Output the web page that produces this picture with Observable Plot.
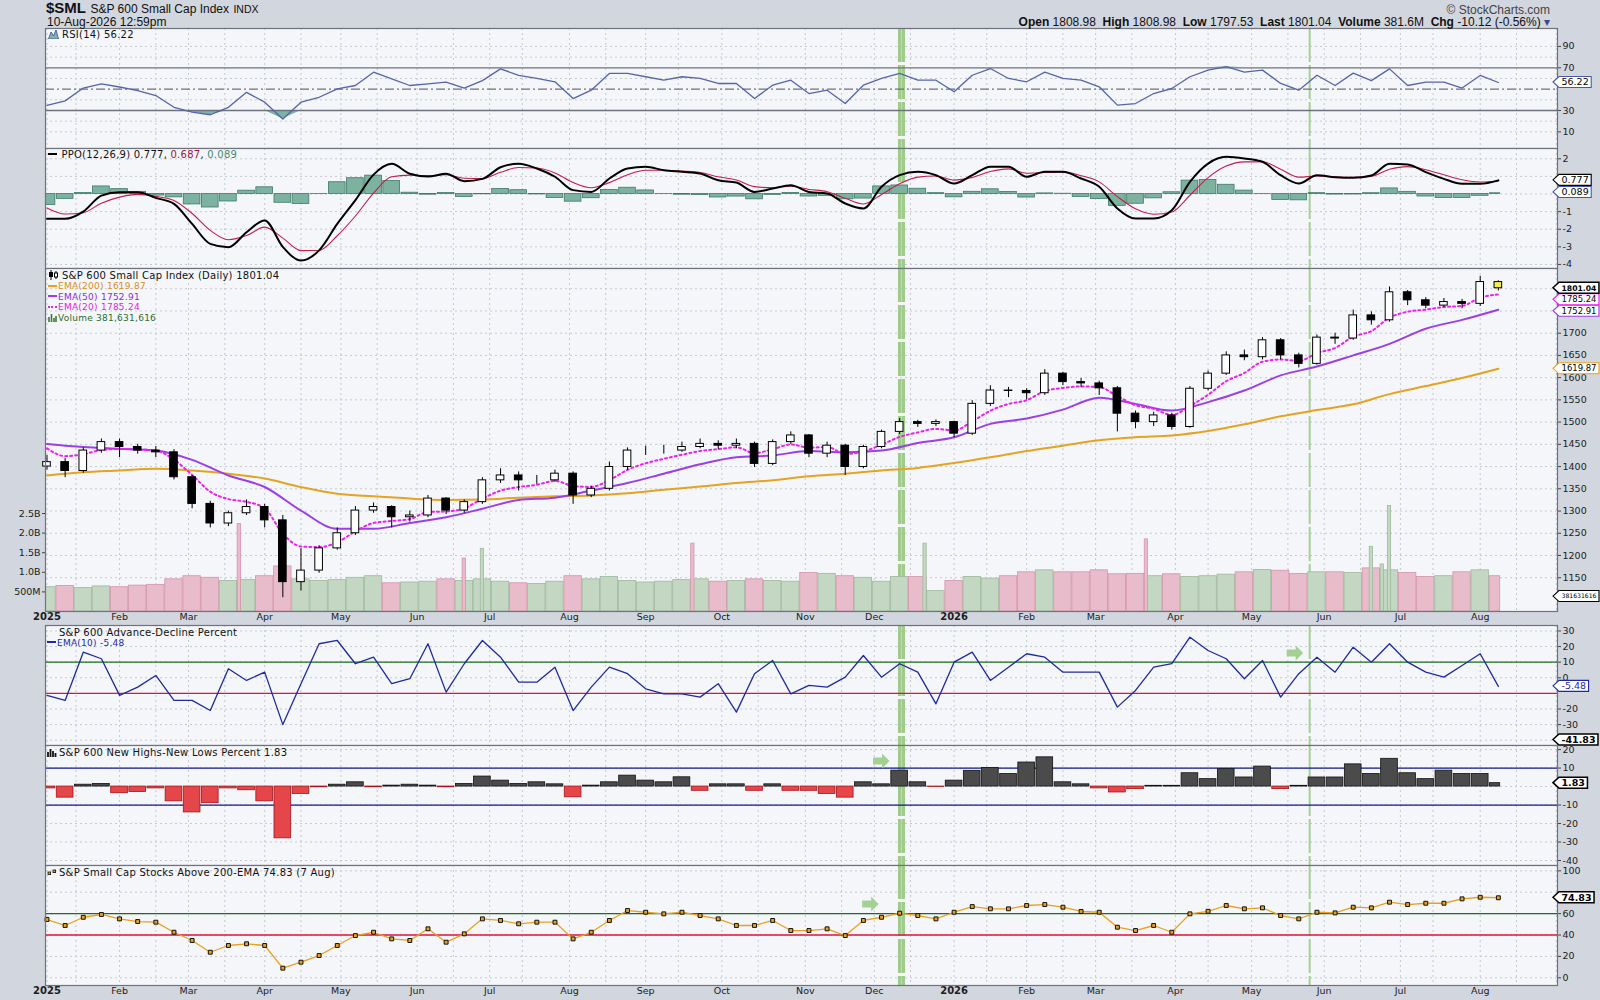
<!DOCTYPE html>
<html>
<head>
<meta charset="utf-8">
<script src="https://cdn.jsdelivr.net/npm/d3@7"></script>
<script src="https://cdn.jsdelivr.net/npm/@observablehq/plot@0.6"></script>
<style>
  html,body{margin:0;padding:0;background:#d2d6de;}
  #chart{position:relative;width:1600px;height:1000px;overflow:hidden;background:#d2d6de;color:#111;}
  #chart > svg{position:absolute;left:0;}
  .lbl{position:absolute;white-space:nowrap;font-family:"DejaVu Sans",sans-serif;font-size:10px;line-height:12px;letter-spacing:0.25px;z-index:5;}
  .lbl svg{display:inline-block;}
  .hdr{position:absolute;white-space:nowrap;font-family:"Liberation Sans",Arial,sans-serif;line-height:14px;z-index:5;}
</style>
</head>
<body>
<div id="chart"></div>
<script>
// ================= DATA =================
// one sample every 5 trading days, from 2 Jan 2025 (index 0) to 10 Aug 2026 (index 400)
const STEP = 5;
const holidays = ["2025-01-09","2025-01-20","2025-02-17","2025-04-18","2025-05-26","2025-06-19","2025-07-04",
  "2025-09-01","2025-11-27","2025-12-25","2026-01-01","2026-01-19","2026-02-16","2026-04-03","2026-05-25",
  "2026-06-19","2026-07-03"];

const firstOpen = 1400;
const close = [
  1410,1390,1436,1455,1444,1436,1432,1376,1316,1272,
  1295,1309,1279,1140,1166,1216,1250,1301,1309,1286,
  1290,1328,1301,1320,1369,1380,1369,1369,1384,1335,
  1350,1399,1436,1436,1436,1444,1451,1447,1451,1406,
  1455,1470,1429,1447,1399,1444,1478,1500,1496,1500,
  1474,1541,1571,1570,1565,1609,1590,1587,1576,1519,
  1500,1515,1489,1575,1609,1650,1646,1684,1650,1631,
  1690,1688,1740,1729,1792,1774,1762,1770,1766,1815,
  1801.04];
const high = [
  1425,1418,1442,1462,1462,1450,1445,1438,1380,1322,
  1300,1325,1315,1290,1215,1222,1262,1310,1318,1312,
  1300,1335,1330,1325,1375,1395,1388,1380,1392,1388,
  1356,1410,1442,1446,1448,1455,1462,1458,1462,1455,
  1460,1478,1472,1455,1450,1448,1482,1508,1504,1505,
  1502,1548,1582,1578,1575,1618,1612,1598,1592,1580,
  1525,1522,1520,1580,1615,1658,1662,1690,1688,1655,
  1696,1700,1752,1748,1804,1796,1780,1778,1776,1828,
  1818];
const low = [
  1392,1375,1385,1430,1420,1428,1420,1370,1305,1262,
  1265,1290,1262,1105,1120,1160,1212,1245,1295,1262,
  1275,1285,1292,1295,1315,1362,1345,1360,1365,1315,
  1330,1345,1392,1425,1428,1432,1440,1438,1440,1398,
  1402,1450,1420,1420,1380,1395,1440,1472,1488,1490,
  1465,1470,1535,1555,1550,1560,1582,1578,1560,1478,
  1485,1490,1482,1486,1570,1605,1638,1640,1640,1622,
  1628,1675,1684,1718,1725,1762,1755,1758,1755,1760,
  1795];
// average daily volume around each sample, millions
const volumeM = [
  620,650,600,640,620,660,680,820,900,860,
  780,800,900,1150,820,780,800,860,900,720,
  740,760,820,780,820,760,720,700,760,900,
  820,880,780,740,760,800,820,760,780,820,
  780,760,980,960,900,860,760,880,880,520,
  780,880,840,900,1000,1050,1000,1000,1050,950,
  960,900,950,880,900,940,1000,1060,1040,960,
  1000,1000,980,1100,1050,980,880,900,1000,1050,
  900];
// single heavy-volume days
const spikeDays = ["2025-03-21","2025-06-20","2025-06-27","2025-09-19","2025-12-19","2026-03-20","2026-06-18","2026-06-24","2026-06-26"];
const spikeVolM = [2230,1350,1600,1730,1730,1840,1650,1200,2690];
const spikeUp   = [false,false,true,false,true,false,true,true,true];

// moving averages, one value every 10 trading days
const ema50 = [1451,1444,1440,1436,1415,1380,1354,1301,1260,1260,
  1273,1286,1305,1325,1330,1346,1363,1384,1405,1421,
  1425,1435,1432,1436,1453,1466,1496,1508,1528,1555,
  1541,1526,1545,1571,1605,1625,1650,1676,1710,1730,1752.91];
const ema200 = [1380,1387,1391,1395,1391,1384,1373,1354,1339,1333,
  1328,1325,1326,1330,1333,1335,1340,1348,1355,1363,
  1369,1378,1384,1391,1397,1408,1421,1435,1447,1459,
  1466,1470,1480,1495,1513,1527,1540,1563,1581,1599,1619.87];
const ema20Start = 1441;

const rsi14 = [
  34.7,39,51,55,52,48.7,44,33,28.4,26,
  33,47,37.8,22,37.8,42.4,50.3,53.4,65.9,59.7,
  53.4,55,56.5,51,58,69,62.8,60,56.9,41.2,
  49,64.7,64.7,61.6,58.4,61.6,60,55.3,55.3,41.2,
  53.7,58.4,45.9,49,36.5,53.7,60,64.7,58.4,58.4,
  47.5,63,69.3,60,56.9,66,60,58.4,52.2,35,
  36.5,45.9,50.6,61.6,67.8,71,66,67.8,55.3,49,
  63,53.4,65,58,69,53.4,56.5,56.5,51,62.8,
  56.22];
const ppoLine = [
  -1.41,-1.41,-1.0,-0.09,0.1,0.1,-0.22,-0.56,-1.7,-2.83,
  -3.02,-2.17,-1.5,-3.0,-3.78,-3.2,-1.7,-0.35,1.1,1.72,
  1.15,0.99,1.15,0.73,0.86,1.52,1.72,1.45,0.98,0.22,
  0.12,0.88,1.45,1.55,1.35,1.26,1.16,0.78,0.65,0.12,
  0.31,0.5,0.12,0.03,-0.54,-0.82,0.41,1.07,1.26,1.07,
  0.6,1.07,1.55,1.55,0.98,1.26,1.26,0.88,0.41,-0.82,
  -1.39,-1.39,-0.92,0.69,1.73,2.11,2.02,1.83,1.07,0.6,
  1.07,0.95,0.92,1.05,1.72,1.68,1.24,0.86,0.58,0.58,
  0.777];
const ppoSignalStart = -0.79;
const adEma10 = [
  -11.3,-14.5,16.4,12.2,-11.3,-6,1.5,-14.5,-14.5,-21,
  5.8,-1.7,3.6,-30,-3.8,21.8,23.9,9,13.2,-3.8,
  -0.6,21.8,-9.2,9,23.9,13.2,-2.8,-2.8,6.8,-21,
  -6,6.8,2.6,-7.1,-10.3,-10.3,-12.4,-3.8,-22,2.6,
  11.1,-10.3,-4.9,-6,0.4,14.3,0.4,9,3.6,-16.7,
  10,16.4,-1.7,6.8,15.4,13.2,3.6,3.6,3.6,-18.8,
  -8.1,6.8,9,26,17.5,12.2,-0.6,11.1,-12.4,2.6,
  13.2,3.6,19.6,10,21.8,10,3.6,0.4,7.9,15.4,
  -5.48];
const nhnlPct = [
  -1,-6,1,1.4,-3.6,-3,-1,-8,-14,-9,
  -1,-2,-8,-28,-4,-0.4,1,2.3,-0.4,0.5,
  1,0.5,-0.4,1.4,5.4,3.2,1.4,2.3,1.2,-5.8,
  0.5,2.3,5.9,3.2,2.3,5,-2.3,1.2,1.2,-2.3,
  1.2,-2.3,-2.3,-4,-6,2.3,1.2,8.6,2.3,-0.2,
  3.2,8.5,10,6.8,13,15.8,2.3,1.2,-1,-3.2,
  -1.4,0.4,0.4,7.2,4,9.4,4.9,10.8,-1.4,0.4,
  4.9,4.9,12,6.8,15,7.2,4,8.6,6.8,6.8,
  1.83];
const above200 = [
  54.5,48.9,56.6,59.2,55.1,52.6,52,42.6,34.9,23.9,
  30.2,31.8,30.2,9,14.6,20.8,30.2,39.5,42.6,36.4,
  34.9,45.8,33.3,41.1,55.1,53.6,50.5,52,52,36.4,
  42.6,53.6,62.9,61.3,59.8,61.3,58.2,55.1,48.9,48.9,
  53.6,44.2,44.2,45.8,39.5,53.6,56.6,60.4,58.2,55.1,
  61.3,66.6,64.5,64.5,67.6,68.5,66,62,61.3,47.3,
  44.2,48.9,42.6,59.8,62.2,67.6,64.5,65.4,58.2,55.1,
  61.3,60.7,66,65.4,70.7,68.5,69.7,69.7,73.8,75.3,
  74.83];

const monthLabels = ["2025","Feb","Mar","Apr","May","Jun","Jul","Aug","Sep","Oct","Nov","Dec",
  "2026","Feb","Mar","Apr","May","Jun","Jul","Aug"];
const priceTicks = [1150,1200,1250,1300,1350,1400,1450,1500,1550,1600,1650,1700,1750,1800];
const volTickValues = [500e6,1e9,1.5e9,2e9,2.5e9];
const volTickLabels = ["500M","1.0B","1.5B","2.0B","2.5B"];
const rsiTicks = [90,70,50,30,10];
const ppoTicks = [2,1,0,-1,-2,-3,-4];
const adTicks = [30,20,10,0,-10,-20,-30];
const nhTicks = [20,10,0,-10,-20,-30,-40];
const abTicks = [100,80,60,40,20,0];

const readout = {open:"1808.98", high:"1808.98", low:"1797.53", last:1801.04, volume:"381.6M", chg:"-10.12 (-0.56%)",
  ema200:1619.87, ema50:1752.91, ema20:1785.24, vol:381631616, rsi:56.22, ppo:0.777, signal:0.687, hist:0.089,
  ad:-5.48, adRaw:-41.83, nhnl:1.83, above:74.83};

const markerBandDays = ["2025-12-10","2025-12-11"];
const markerLineDays = ["2026-05-26"];
const arrowAD = [{day:"2026-05-19", value:15.5}];
const arrowNH = [{day:"2025-12-03", value:13.5}];
const arrowAB = [{day:"2025-11-28", value:68.5}];

// ================= trading calendar =================
const tradingDays = [];
{
  const hol = new Set(holidays);
  for (let t = Date.UTC(2025,0,2); t <= Date.UTC(2026,8,30); t += 864e5) {
    const d = new Date(t), wd = d.getUTCDay(), s = d.toISOString().slice(0,10);
    if (wd !== 0 && wd !== 6 && !hol.has(s)) tradingDays.push(s);
  }
}
const dayIdx = s => tradingDays.indexOf(s);
const monthStart = [], midMonth = [];
tradingDays.forEach((s, i) => {
  const ym = s.slice(0,7);
  if (!monthStart.length || tradingDays[monthStart[monthStart.length-1]].slice(0,7) !== ym) monthStart.push(i);
  if (+s.slice(8) >= 15 && (!midMonth.length || tradingDays[midMonth[midMonth.length-1]].slice(0,7) !== ym)) midMonth.push(i);
});
const XD = [-0.41, 416.3];
const monthTicks = monthLabels.map((label, k) => ({x: monthStart[k], label, year: /^\d{4}$/.test(label)}));
const gridX = [...monthStart, ...midMonth].filter(i => i <= XD[1]);

// ================= derived table =================
// per-sample smoothing equivalent to the average lag of a daily EMA (lag (N-1)/2 days)
const aLag = n => 1 / (1 + ((n - 1) / 2) / STEP);
const a20 = aLag(20), a9 = aLag(9);
let e20 = ema20Start, sig = ppoSignalStart;
const rows = close.map((c, i) => {
  if (i) { e20 += a20 * (c - e20); sig += a9 * (ppoLine[i] - sig); }
  return {x: i*STEP, o: i ? close[i-1] : firstOpen, c, h: high[i], l: low[i], v: volumeM[i]*1e6,
    ema20: e20, rsi: rsi14[i], ppo: ppoLine[i], signal: sig, hist: ppoLine[i] - sig,
    ad: adEma10[i], nh: nhnlPct[i], ab: above200[i]};
});
const ema50Rows = ema50.map((v,k) => ({x: k*10, v}));
const ema200Rows = ema200.map((v,k) => ({x: k*10, v}));
const spikes = spikeDays.map((d,k) => ({x: dayIdx(d), v: spikeVolM[k]*1e6, up: spikeUp[k]}));
const bandX = markerBandDays.map(dayIdx), lineX = markerLineDays.map(dayIdx);

// ================= helpers =================
const chart = document.getElementById("chart");
const ML = 45, MR = 43;
const GRID = "#c4c9d2";
const measure = document.createElement("canvas").getContext("2d");
const textW = (t, bold, fs = 9.5) => { measure.font = `${bold ? "bold " : ""}${fs}px "DejaVu Sans"`; return measure.measureText(t).width; };

function panel(top, h, yDomain, marks, mb = 0) {
  const svg = Plot.plot({
    width: 1600, height: h + mb, marginLeft: ML, marginRight: MR, marginTop: 0, marginBottom: mb,
    x: {domain: XD, axis: null},
    y: {domain: yDomain, axis: null},
    style: {background: "transparent", fontFamily: "DejaVu Sans", fontSize: "9.5px", color: "#1c1c1c", overflow: "visible"},
    marks
  });
  svg.style.top = top + "px";
  chart.append(svg);
}
// tick values whose label would sit under a value tag are left to the tag
const freeTicks = (ticks, domain, h, tagValues) => ticks.filter(t =>
  tagValues.every(v => Math.abs((t - v) / (domain[1] - domain[0]) * h) > 8));
const bg = () => Plot.frame({fill: "#f4f6fa", stroke: "none"});
const border = () => Plot.frame({stroke: "#6f737d", strokeWidth: 1.2});
const vgrid = () => Plot.ruleX(gridX, {stroke: GRID, strokeDasharray: "2,3"});
const hgrid = v => Plot.ruleY(v, {stroke: GRID, strokeDasharray: "2,3"});
const markers = () => [
  Plot.ruleX(bandX, {stroke: "#9fcb8c", strokeWidth: 3.4, strokeDasharray: "34,3"}),
  Plot.ruleX(lineX, {stroke: "#a6d095", strokeWidth: 2, strokeDasharray: "34,3"})
];
const rightAxis = ticks => Plot.axisY(ticks, {anchor: "right", label: null, tickSize: 3, tickPadding: 2, fontSize: 9.5, tickFormat: d => String(d), stroke: "#444"});
function tags(list) {
  return (index, scales, values, dims) => {
    const g = d3.create("svg:g").attr("font-family", "DejaVu Sans").attr("text-anchor", "start");
    const x0 = dims.width - dims.marginRight - 4;
    const room = dims.width - (x0 + 6) - 6;           // text must end inside the picture
    const placed = list.map(t => ({...t, py: scales.y(t.value) + (t.dy || 0)}));
    const order = [...placed].sort((a, b) => a.py - b.py);
    for (let i = 1; i < order.length; i++) if (order[i].py < order[i-1].py + 11.5) order[i].py = order[i-1].py + 11.5;
    for (const t of placed) {
      const fs = Math.min(9.5, 9.5 * room / textW(t.text, t.bold));
      const y = t.py, w = textW(t.text, t.bold, fs) + 5;
      g.append("path")
        .attr("d", `M${x0},${y}L${x0+6},${y-5.5}H${x0+6+w}V${y+5.5}H${x0+6}Z`)
        .attr("fill", "#fff").attr("stroke", t.color).attr("stroke-width", t.bold ? 1.5 : 1.1);
      g.append("text").attr("x", x0 + 8.5).attr("y", y).attr("dy", "0.36em").attr("text-anchor", "start")
        .attr("font-size", fs).attr("font-weight", t.bold ? "bold" : null).attr("fill", t.textColor || "#000").text(t.text);
    }
    return g.node();
  };
}
function arrows(notes) {
  return (index, scales) => {
    const g = d3.create("svg:g");
    for (const n of notes) {
      g.append("path").attr("transform", `translate(${scales.x(dayIdx(n.day))},${scales.y(n.value)})`)
        .attr("d", "M-8,-3.5H1V-7.5L8.5,0L1,7.5V3.5H-8Z").attr("fill", "#a3d193");
    }
    return g.node();
  };
}
const monthText = (bold) => Plot.text(monthTicks.filter(d => d.year === bold),
  {x: "x", text: "label", frameAnchor: "bottom", dy: 8, fontSize: bold ? 10 : 9.5, fontWeight: bold ? "bold" : "normal", fill: "#1c1c1c"});
const up = d => d.c >= d.o;

// ================= RSI panel =================
const rsiDomain = [-5.6, 106.8];
panel(28, 120, rsiDomain, [
  bg(), hgrid([10,20,40,60,80,90]), vgrid(), ...markers(),
  Plot.areaY(rows, {x: "x", y1: 30, y2: d => Math.min(d.rsi, 30), fill: "#7fb3a5"}),
  Plot.areaY(rows, {x: "x", y1: 70, y2: d => Math.max(d.rsi, 70), fill: "#7fb3a5"}),
  Plot.ruleY([30, 70], {stroke: "#6e727c", strokeWidth: 1.3}),
  Plot.ruleY([50], {stroke: "#6e727c", strokeWidth: 1.2, strokeDasharray: "9,3,2,3"}),
  Plot.line(rows, {x: "x", y: "rsi", stroke: "#5664a8", strokeWidth: 1.3}),
  rightAxis(freeTicks(rsiTicks, rsiDomain, 120, [readout.rsi])), border(),
  tags([{value: readout.rsi, text: String(readout.rsi), color: "#4a5aa2"}])
]);

// ================= PPO panel =================
const ppoDomain = [-4.23, 2.585];
panel(148, 120, ppoDomain, [
  bg(), hgrid(ppoTicks), vgrid(), ...markers(),
  Plot.rect(rows, {x1: d => d.x - 2.3, x2: d => Math.min(d.x + 2.3, 400.5), y1: 0, y2: "hist", fill: "#7db1a0", stroke: "#3d7a68", strokeWidth: 0.8, clip: true}),
  Plot.line(rows, {x: "x", y: "signal", stroke: "#c41e4a", strokeWidth: 1.1, curve: "monotone-x"}),
  Plot.line(rows, {x: "x", y: "ppo", stroke: "#000", strokeWidth: 2, curve: "monotone-x"}),
  rightAxis(freeTicks(ppoTicks, ppoDomain, 120, [readout.ppo, readout.hist])), border(),
  tags([{value: readout.hist, text: String(readout.hist), color: "#3f5aa8"},
        {value: readout.ppo, text: String(readout.ppo), color: "#000"}])
]);

// ================= Price panel =================
const priceDomain = [1074, 1845.5];
const volMax = 8.75e9;
const volY = v => priceDomain[0] + v / volMax * (priceDomain[1] - priceDomain[0]);
const volLabel = new Map(volTickValues.map((v, k) => [volY(v), volTickLabels[k]]));
panel(268, 343, priceDomain, [
  bg(), hgrid(priceTicks), vgrid(), ...markers(),
  Plot.rect(rows, {x1: d => d.x - 2.4, x2: d => Math.min(d.x + 2.4, 400.5), y1: volY(0), y2: d => volY(d.v),
    fill: d => up(d) ? "#c4d7c2" : "#e8bccb", stroke: d => up(d) ? "#9db99b" : "#d593a9", strokeWidth: 0.8, clip: true}),
  Plot.rect(spikes, {x1: d => d.x - 0.45, x2: d => d.x + 0.45, y1: volY(0), y2: d => volY(d.v),
    fill: d => d.up ? "#c4d7c2" : "#e8bccb", stroke: d => d.up ? "#9db99b" : "#d593a9", strokeWidth: 0.8}),
  Plot.line(ema200Rows, {x: "x", y: "v", stroke: "#e6a322", strokeWidth: 2, curve: "monotone-x"}),
  Plot.line(ema50Rows, {x: "x", y: "v", stroke: "#9b3fe6", strokeWidth: 2, curve: "monotone-x"}),
  Plot.line(rows, {x: "x", y: "ema20", stroke: "#f01ef0", strokeWidth: 2, strokeDasharray: "2,3", curve: "monotone-x"}),
  Plot.ruleX(rows, {x: "x", y1: "l", y2: "h", stroke: "#000", strokeWidth: 1}),
  Plot.rect(rows, {x1: d => d.x - 1.05, x2: d => d.x + 1.05, y1: "o", y2: "c",
    fill: d => d.x === 400 ? "#f3ee52" : (up(d) ? "#fff" : "#000"), stroke: "#000", strokeWidth: 1}),
  rightAxis(freeTicks(priceTicks, priceDomain, 343, [readout.last, readout.ema20, readout.ema50, readout.ema200])),
  Plot.axisY([...volLabel.keys()], {anchor: "left", label: null, tickSize: 3, tickPadding: 2, fontSize: 9.5, tickFormat: d => volLabel.get(d), stroke: "#444"}),
  monthText(false), monthText(true),
  border(),
  tags([{value: readout.ema200, text: String(readout.ema200), color: "#e6a322"},
        {value: volY(readout.vol), text: String(readout.vol), color: "#000"},
        {value: readout.ema50, text: String(readout.ema50), color: "#9b3fe6"},
        {value: readout.ema20, text: String(readout.ema20), color: "#f01ef0"},
        {value: readout.last, text: String(readout.last), color: "#000", bold: true}])
], 14);

// ================= A-D percent panel =================
const adDomain = [-43.4, 33.5];
panel(625, 120, adDomain, [
  bg(), hgrid([30,20,10,0,-10,-20,-30,-40]), vgrid(), ...markers(),
  Plot.ruleY([10], {stroke: "#1b6e1b", strokeWidth: 1.3}),
  Plot.ruleY([-10], {stroke: "#e0153a", strokeWidth: 1.3}),
  Plot.line(rows, {x: "x", y: "ad", stroke: "#1f2b9c", strokeWidth: 1.3}),
  arrows(arrowAD),
  rightAxis(freeTicks(adTicks, adDomain, 120, [readout.ad])), border(),
  tags([{value: readout.ad, text: String(readout.ad), color: "#1f2b9c", textColor: "#1f2b9c"},
        {value: readout.adRaw, text: String(readout.adRaw), color: "#000", bold: true, dy: -3}])
]);

// ================= NH-NL panel =================
const nhDomain = [-42.7, 22.2];
panel(745, 120, nhDomain, [
  bg(), hgrid([20,10,0,-10,-20,-30,-40]), vgrid(), ...markers(),
  Plot.ruleY([10, -10], {stroke: "#10188c", strokeWidth: 1.3}),
  Plot.rect(rows, {x1: d => d.x - 2.3, x2: d => Math.min(d.x + 2.3, 400.5), y1: 0, y2: "nh",
    fill: d => d.nh >= 0 ? "#4b4b4b" : "#e4464a", stroke: d => d.nh >= 0 ? "#111" : "#a3151a", strokeWidth: 0.8, clip: true}),
  arrows(arrowNH),
  rightAxis(freeTicks(nhTicks, nhDomain, 120, [readout.nhnl])),
  border(),
  tags([{value: readout.nhnl, text: String(readout.nhnl), color: "#000", bold: true}])
]);

// ================= Stocks above 200-EMA panel =================
const abDomain = [-7.2, 105];
panel(865, 120, abDomain, [
  bg(), hgrid([0,20,40,60,80,100]), vgrid(), ...markers(),
  Plot.ruleY([60], {stroke: "#1b6e1b", strokeWidth: 1.3}),
  Plot.ruleY([40], {stroke: "#e0153a", strokeWidth: 1.3}),
  Plot.line(rows, {x: "x", y: "ab", stroke: "#eaa01e", strokeWidth: 1.3}),
  Plot.dot(rows, {x: "x", y: "ab", symbol: "square", r: 2.2, fill: "#e8a21e", stroke: "#111", strokeWidth: 1}),
  arrows(arrowAB),
  rightAxis(freeTicks(abTicks, abDomain, 120, [readout.above])),
  monthText(false), monthText(true),
  border(),
  tags([{value: readout.above, text: String(readout.above), color: "#000", bold: true}])
], 15);

// ================= header & legends =================
function put(cls, top, left, html, css = "") {
  const d = document.createElement("div");
  d.className = cls; d.style.cssText = `top:${top}px;left:${left}px;${css}`; d.innerHTML = html;
  chart.append(d); return d;
}
const sw = (color, style = "solid") => `<span style="display:inline-block;width:9px;height:0;border-top:2px ${style} ${color};vertical-align:middle;margin-right:1px;position:relative;top:-1px"></span>`;

put("hdr", 1, 46, `<b style="font-size:15px">$SML</b>&nbsp;<span style="font-size:12px">S&amp;P 600 Small Cap Index</span>&nbsp;<span style="font-size:10.5px">INDX</span>`);
put("hdr", 14, 47, `<span style="font-size:12px">10-Aug-2026 12:59pm</span>`);
put("hdr", 2, 0, `<span style="font-size:12px;color:#444">© StockCharts.com</span>`, "left:auto;right:50px");
put("hdr", 14, 0, `<span style="font-size:12px"><b>Open</b> ${readout.open}&nbsp; <b>High</b> ${readout.high}&nbsp; <b>Low</b> ${readout.low}&nbsp; <b>Last</b> ${readout.last}&nbsp; <b>Volume</b> ${readout.volume}&nbsp; <b>Chg</b> ${readout.chg} <span style="color:#3a4a8a">▾</span></span>`, "left:auto;right:50px");

put("lbl", 28.5, 48, `<svg width="11" height="10" style="vertical-align:-1px;margin-right:3px"><path d="M0.5 10L3 3L5.5 7L8 1L10.5 10Z" fill="#7fb3a5" stroke="#5664a8"/></svg>RSI(14) ${readout.rsi}`);
put("lbl", 148.5, 48, `${sw("#000")} PPO(12,26,9) ${readout.ppo}, <span style="color:#a0143c">${readout.signal}</span>, <span style="color:#3f8a74">${readout.hist}</span>`);
put("lbl", 270, 48, `<svg width="11" height="10" style="vertical-align:-1px;margin-right:3px"><path d="M3 0V10M8 1V9" stroke="#000"/><rect x="1" y="2" width="4" height="5" fill="#000"/><rect x="6.5" y="3" width="3" height="4" fill="#fff" stroke="#000"/></svg>S&amp;P 600 Small Cap Index (Daily) ${readout.last}`);
put("lbl", 281, 48, `${sw("#e6a322")}<span style="color:#d8901a">EMA(200) ${readout.ema200}</span>`, "font-size:9px;line-height:11px");
put("lbl", 291.7, 48, `${sw("#9b3fe6")}<span style="color:#8a2be2">EMA(50) ${readout.ema50}</span>`, "font-size:9px;line-height:11px");
put("lbl", 302.4, 48, `${sw("#f01ef0","dotted")}<span style="color:#e01ee0">EMA(20) ${readout.ema20}</span>`, "font-size:9px;line-height:11px");
put("lbl", 313, 48, `<svg width="9" height="9" style="vertical-align:-1px;margin-right:1px"><path d="M1 9V4M3.5 9V1M6 9V5M8 9V3" stroke="#3a7a3a" stroke-width="1.6"/></svg><span style="color:#2f6b2f">Volume 381,631,616</span>`, "font-size:9px;line-height:11px");
put("lbl", 627, 59, `S&amp;P 600 Advance-Decline Percent`);
put("lbl", 637.5, 47, `${sw("#1f2b9c")}<span style="color:#1f2b9c">EMA(10) ${readout.ad}</span>`, "font-size:9px;line-height:11px");
put("lbl", 747, 47, `<svg width="10" height="9" style="vertical-align:-1px;margin-right:2px"><path d="M1 9V4M3.5 9V1M6 9V3M8.5 9V5" stroke="#111" stroke-width="1.8"/></svg>S&amp;P 600 New Highs-New Lows Percent ${readout.nhnl}`);
put("lbl", 866.5, 47, `<svg width="10" height="9" style="vertical-align:-1px;margin-right:2px"><rect x="1" y="4" width="2.6" height="2.6" fill="#e8a21e" stroke="#111" stroke-width="0.8"/><rect x="6" y="2" width="2.6" height="2.6" fill="#e8a21e" stroke="#111" stroke-width="0.8"/></svg>S&amp;P Small Cap Stocks Above 200-EMA ${readout.above} (7 Aug)`);
</script>
</body>
</html>
